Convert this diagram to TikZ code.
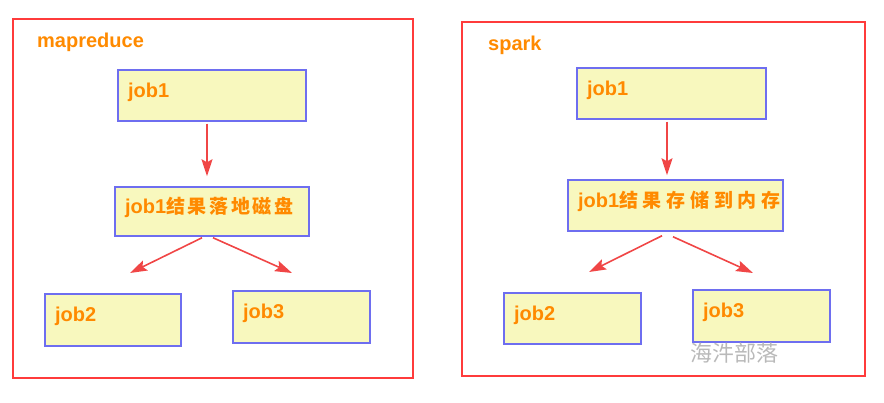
\documentclass[tikz,border=0pt]{standalone}
\usepackage{fontspec}
\setmainfont{Liberation Sans}
\newfontfamily\cjk{Noto Sans CJK SC}[Scale=0.95,LetterSpace=14]
\newfontfamily\cjkwide{Noto Sans CJK SC}[Scale=0.95,LetterSpace=25]
\newfontfamily\cjkmark{Noto Sans CJK SC}
\usepackage{xcolor}
\usetikzlibrary{arrows.meta}

\definecolor{framered}{HTML}{FF3B3B}
\definecolor{boxblue}{HTML}{6E6EF0}
\definecolor{boxfill}{HTML}{F8F8BE}
\definecolor{txtorange}{HTML}{FF8A00}
\definecolor{arrred}{HTML}{F04646}

\begin{document}
\begin{tikzpicture}[x=1pt,y=-1pt,>={Stealth[length=17pt,width=11pt,inset=3pt]},
  every node/.style={font=\fontsize{20}{24}\selectfont\bfseries,text=txtorange},
  frame/.style={draw=framered,line width=2pt,inner sep=0pt},
  jobbox/.style={draw=boxblue,fill=boxfill,line width=1.5pt,minimum height=51pt,
    text width=#1,inner xsep=10pt,align=left,text height=9pt,text depth=5pt},
  title/.style={anchor=base west,inner sep=0pt},
  flow/.style={->,draw=arrred,line width=1.6pt},
  wmark/.style={font=\fontsize{22}{24}\selectfont\cjkmark,text=gray!55}]
  \useasboundingbox (0,0) rectangle (884,403);

  % mapreduce
  \node[frame,minimum width=400pt,minimum height=359pt] (mrframe) at (213,198.5) {};
  \node[title] (mrtitle) at (37,48) {mapreduce};
  \node[jobbox=168pt] (ljobone) at (212,95.5) {job1};
  \node[jobbox=174pt,minimum height=49pt] (lmid) at (212,211.5) {job1{\cjk 结果落地磁盘}};
  \node[jobbox=116pt,minimum height=52pt] (ljobtwo) at (113,320) {job2};
  \node[jobbox=117pt,minimum height=52pt] (ljobthree) at (301.5,317) {job3};
  \coordinate (ltiptwo) at (130,273);
  \coordinate (ltipthree) at (292,273);

  \draw[flow,shorten <=2pt,shorten >=10pt] ([xshift=-5pt]ljobone.south) -- ([xshift=-5pt]lmid.north);
  \draw[flow] ([xshift=-10pt,yshift=-1pt]lmid.south) -- (ltiptwo);
  \draw[flow] ([xshift=1pt,yshift=-1pt]lmid.south) -- (ltipthree);

  % spark
  \node[frame,minimum width=403pt,minimum height=354pt] (spframe) at (663.5,199) {};
  \node[title] (sptitle) at (488,51) {spark};
  \node[jobbox=169pt] (rjobone) at (671.5,93.5) {job1};
  \node[jobbox=195pt] (rmid) at (675.5,205.5) {job1{\cjkwide 结果存储到内存}};
  \node[jobbox=117pt] (rjobtwo) at (572.5,318.5) {job2};
  \node[jobbox=117pt,minimum height=52pt] (rjobthree) at (761.5,316) {job3};
  \coordinate (rtiptwo) at (589,272);
  \coordinate (rtipthree) at (753,273);

  \draw[flow,shorten <=2pt,shorten >=4pt] ([xshift=-4.5pt]rjobone.south) -- ([xshift=-8.5pt]rmid.north);
  \draw[flow] ([xshift=-13.5pt,yshift=-4pt]rmid.south) -- (rtiptwo);
  \draw[flow] ([xshift=-2.5pt,yshift=-5pt]rmid.south) -- (rtipthree);

  \node[wmark] (wm) at (734,353) {海汼部落};
\end{tikzpicture}
\end{document}
